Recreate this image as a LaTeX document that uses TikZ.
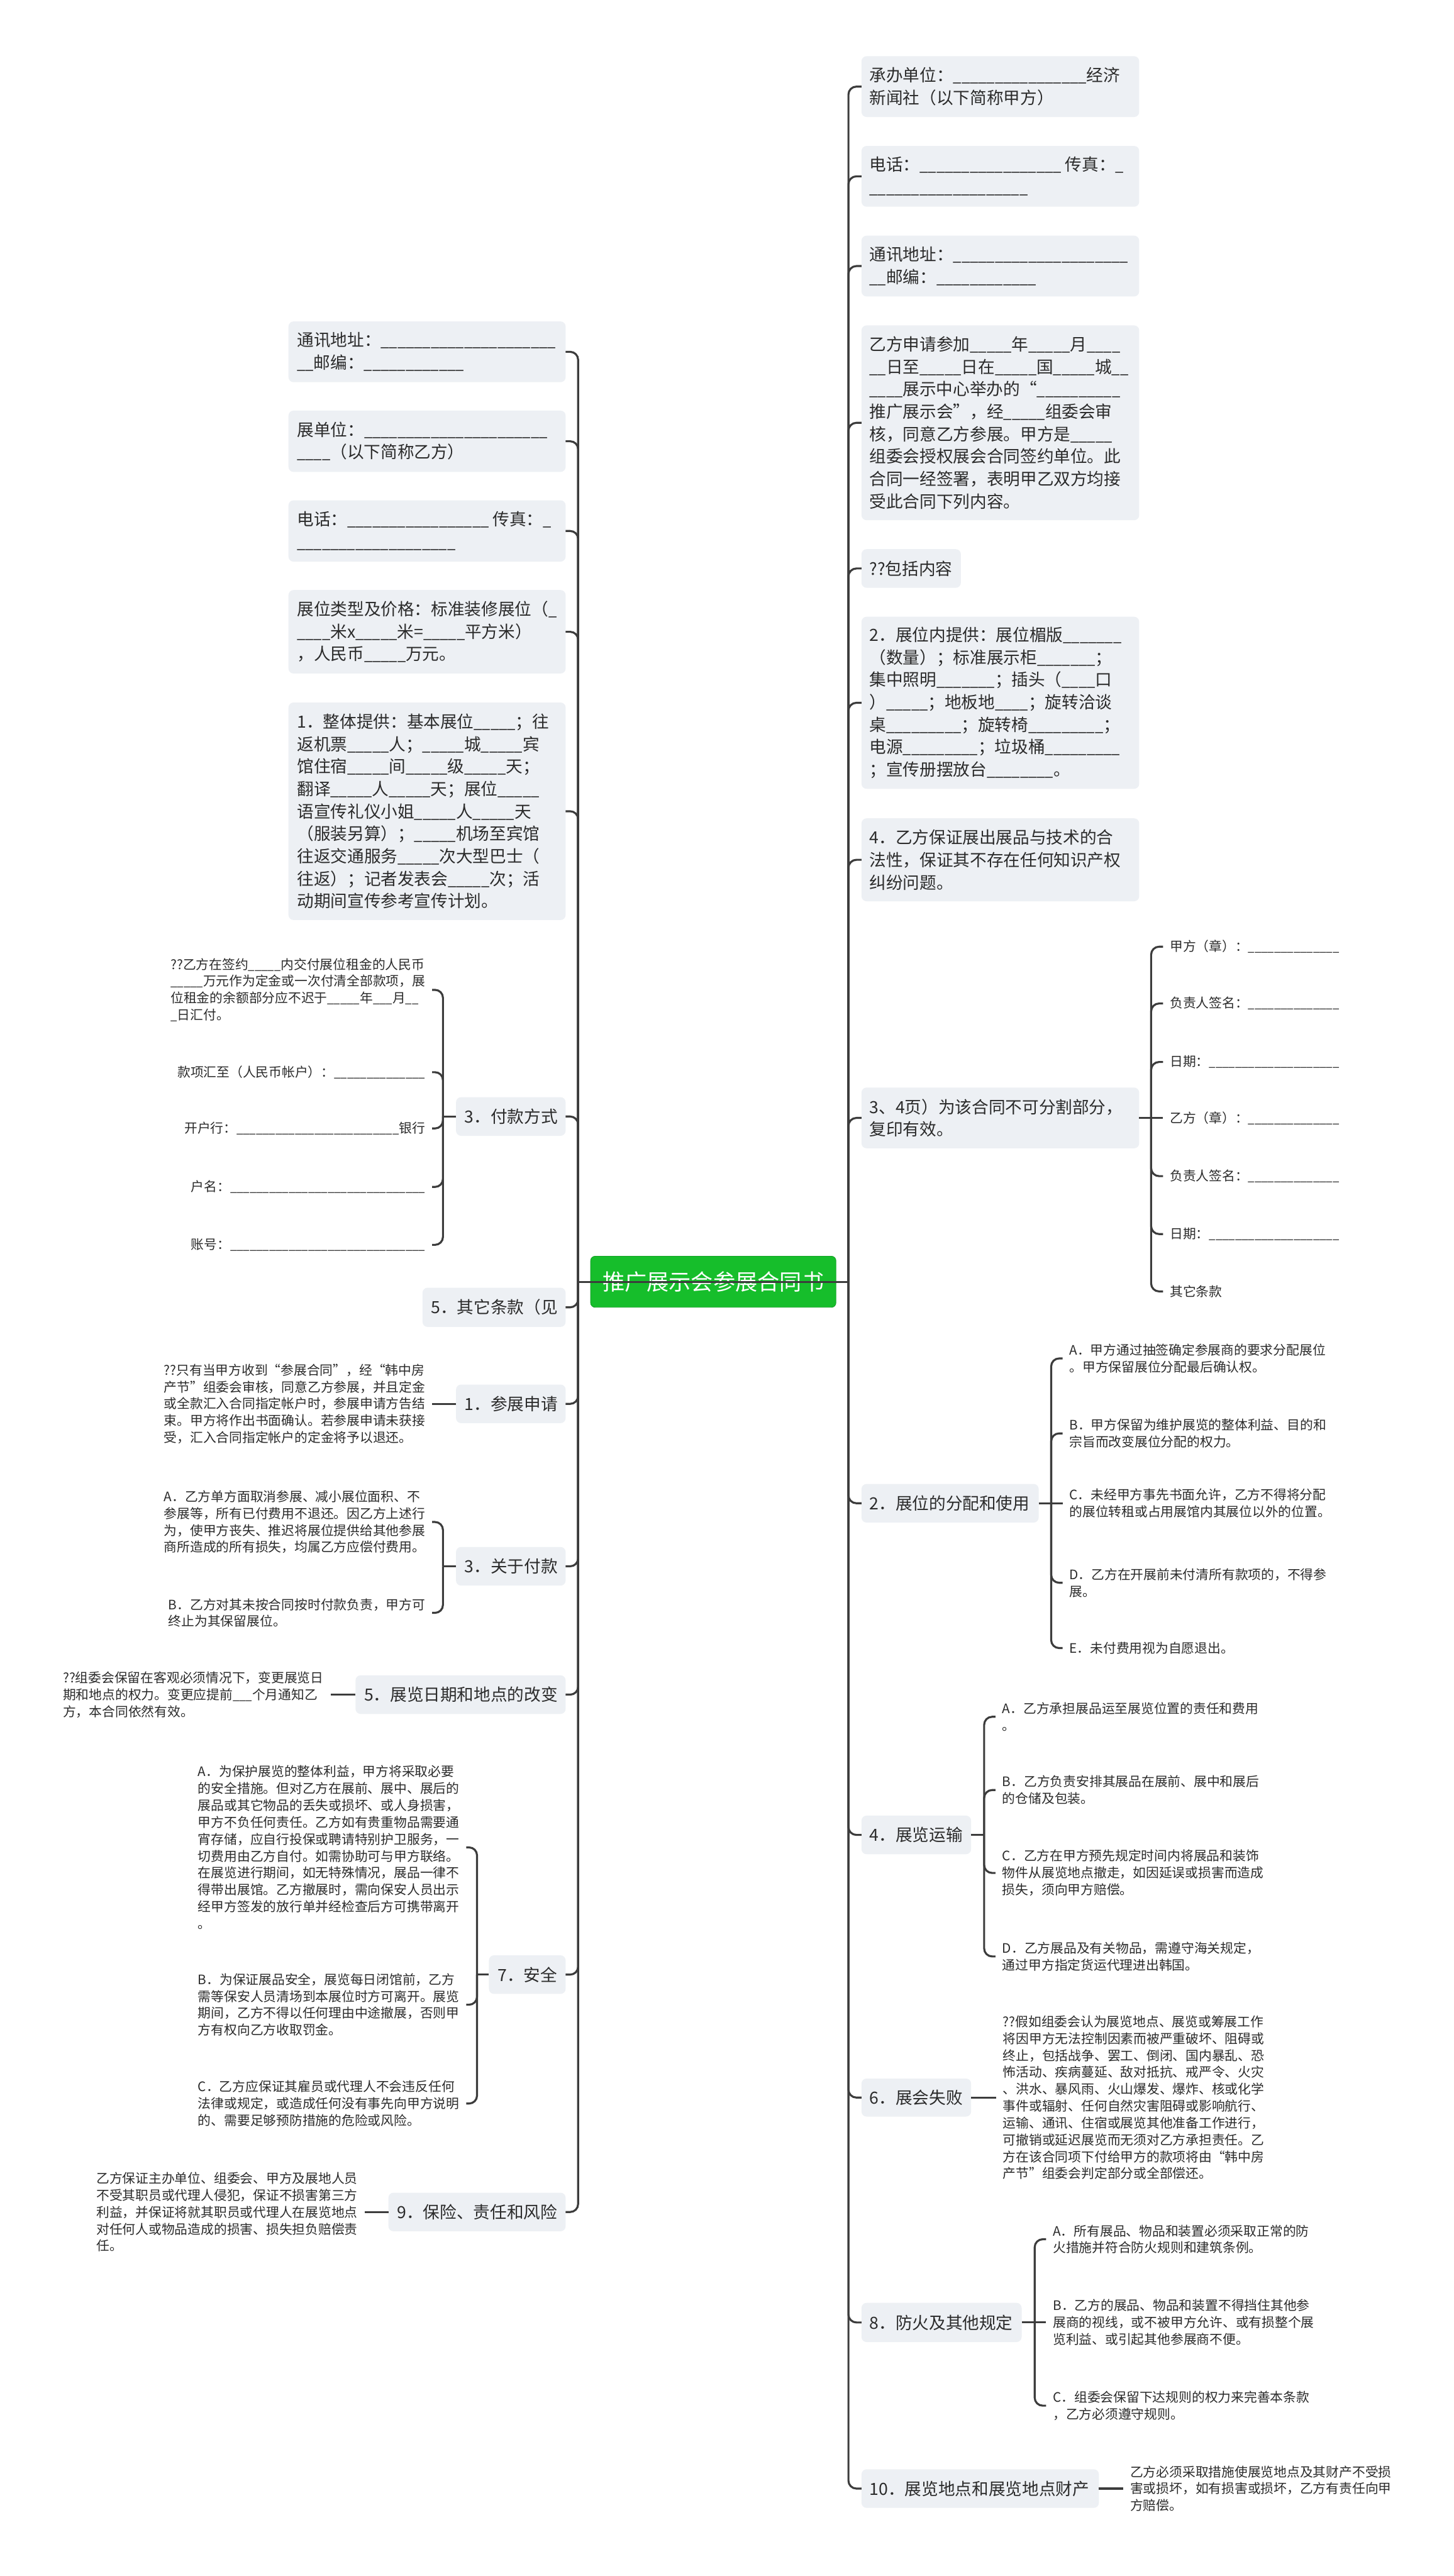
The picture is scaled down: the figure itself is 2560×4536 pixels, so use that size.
\documentclass[tikz,border=0pt]{standalone}
\usepackage{fontspec}
\setmainfont{Noto Sans CJK SC}
\newfontfamily\usfont[FakeStretch=0.89]{Noto Sans CJK SC}
\ExplSyntaxOn
\cs_new:Npn \myus #1 { { \usfont \prg_replicate:nn {#1} { \textunderscore } } }
\ExplSyntaxOff
\definecolor{boxc}{HTML}{EDF0F4}
\definecolor{txtc}{HTML}{2B2B2B}
\definecolor{connc}{HTML}{3C3C3C}
\definecolor{rootc}{HTML}{16BE2B}
\tikzset{
  box/.style={fill=boxc, rounded corners=9pt, inner sep=0pt, outer sep=0pt},
  btxt/.style={font=\fontsize{29.5}{39.5}\selectfont, text=txtc, align=left, inner sep=0pt, anchor=west},
  ctxt/.style={font=\fontsize{23}{29.7}\selectfont, text=txtc, align=left, inner xsep=12pt, inner ysep=2pt},
  lc/.style={ctxt, anchor=east},
  rc/.style={ctxt, anchor=west},
  conn/.style={draw=connc, line width=3.5pt, rounded corners=14pt},
}
\begin{document}
\begin{tikzpicture}[x=1pt, y=-1pt]
\fill[white] (0,0) rectangle (2560,4536);
\useasboundingbox (0,0) rectangle (2560,4536);

% root
\node[fill=rootc, draw=rootc!85!black, line width=1pt, rounded corners=8pt, minimum width=432pt, minimum height=90pt, inner sep=0pt, text=white, font=\fontsize{39}{46}\selectfont] (root) at (1256,2257) {推广展示会参展合同书};
\coordinate (L) at (1018,2257);
\coordinate (R) at (1494,2257);

% ---------------- left boxes
\node[box, minimum width=488pt, minimum height=107pt] (L1) at (752,619.5) {};
\node[btxt] at ([xshift=15pt]L1.west) {通讯地址：\myus{21}\\\myus{2}邮编：\myus{12}};
\node[box, minimum width=488pt, minimum height=108pt] (L2) at (752,777) {};
\node[btxt] at ([xshift=15pt]L2.west) {展单位：\myus{22}\\\myus{4}（以下简称乙方）};
\node[box, minimum width=488pt, minimum height=108pt] (L3) at (752,935) {};
\node[btxt] at ([xshift=15pt]L3.west) {电话：\myus{17} 传真：\myus{1}\\\myus{19}};
\node[box, minimum width=488pt, minimum height=147pt] (L4) at (752,1112.5) {};
\node[btxt] at ([xshift=15pt]L4.west) {展位类型及价格：标准装修展位（\myus{1}\\\myus{4}米x\myus{5}米=\myus{5}平方米）\\，人民币\myus{5}万元。};
\node[box, minimum width=488pt, minimum height=383pt] (L5) at (752,1428.5) {};
\node[btxt] at ([xshift=15pt]L5.west) {1．整体提供：基本展位\myus{5}；往\\返机票\myus{5}人；\myus{5}城\myus{5}宾\\馆住宿\myus{5}间\myus{5}级\myus{5}天；\\翻译\myus{5}人\myus{5}天；展位\myus{5}\\语宣传礼仪小姐\myus{5}人\myus{5}天\\（服装另算）；\myus{5}机场至宾馆\\往返交通服务\myus{5}次大型巴士（\\往返）；记者发表会\myus{5}次；活\\动期间宣传参考宣传计划。};
\node[box, minimum width=193pt, minimum height=68pt] (L6) at (899.5,1966) {};
\node[btxt] at ([xshift=15pt]L6.west) {3．付款方式};
\node[box, minimum width=252pt, minimum height=69pt] (L7) at (870,2302) {};
\node[btxt] at ([xshift=15pt]L7.west) {5．其它条款（见};
\node[box, minimum width=193pt, minimum height=68pt] (L8) at (899.5,2472) {};
\node[btxt] at ([xshift=15pt]L8.west) {1．参展申请};
\node[box, minimum width=193pt, minimum height=68pt] (L9) at (899.5,2758) {};
\node[btxt] at ([xshift=15pt]L9.west) {3．关于付款};
\node[box, minimum width=370pt, minimum height=68pt] (L10) at (811,2984) {};
\node[btxt] at ([xshift=15pt]L10.west) {5．展览日期和地点的改变};
\node[box, minimum width=135pt, minimum height=68pt] (L11) at (928.5,3477) {};
\node[btxt] at ([xshift=15pt]L11.west) {7．安全};
\node[box, minimum width=312pt, minimum height=68pt] (L12) at (840,3895) {};
\node[btxt] at ([xshift=15pt]L12.west) {9．保险、责任和风险};

\foreach \n in {L1,L2,L3,L4,L5,L6,L7,L8,L9,L10,L11,L12} {\draw[conn] (L) |- (\n.east);}

% left children
\coordinate (L6s) at (780,1966);
\node[lc] (L6a) at (761,1743) {??乙方在签约\myus{5}内交付展位租金的人民币\\\myus{5}万元作为定金或一次付清全部款项，展\\位租金的余额部分应不迟于\myus{5}年\myus{3}月\myus{2}\\\myus{1}日汇付。};
\node[lc] (L6b) at (761,1888) {款项汇至（人民币帐户）：\myus{14}};
\node[lc] (L6c) at (761,1987) {开户行：\myus{25}银行};
\node[lc] (L6d) at (761,2090) {户名：\myus{30}};
\node[lc] (L6e) at (761,2192) {账号：\myus{30}};
\draw[conn] (L6.west) -- (L6s);
\foreach \n in {L6a,L6b,L6c,L6d,L6e} {\draw[conn] (L6s) |- (\n.east);}

\node[lc] (L8a) at (761,2472) {??只有当甲方收到“参展合同”，经“韩中房\\产节”组委会审核，同意乙方参展，并且定金\\或全款汇入合同指定帐户时，参展申请方告结\\束。甲方将作出书面确认。若参展申请未获接\\受，汇入合同指定帐户的定金将予以退还。};
\draw[conn] (L8.west) -- (L8a.east);

\coordinate (L9s) at (780,2758);
\node[lc] (L9a) at (761,2680) {A．乙方单方面取消参展、减小展位面积、不\\参展等，所有已付费用不退还。因乙方上述行\\为，使甲方丧失、推迟将展位提供给其他参展\\商所造成的所有损失，均属乙方应偿付费用。};
\node[lc] (L9b) at (761,2840) {B．乙方对其未按合同按时付款负责，甲方可\\终止为其保留展位。};
\draw[conn] (L9.west) -- (L9s);
\foreach \n in {L9a,L9b} {\draw[conn] (L9s) |- (\n.east);}

\node[lc] (L10a) at (582,2984) {??组委会保留在客观必须情况下，变更展览日\\期和地点的权力。变更应提前\myus{3}个月通知乙\\方，本合同依然有效。};
\draw[conn] (L10.west) -- (L10a.east);

\coordinate (L11s) at (840,3477);
\node[lc] (L11a) at (821,3253) {A．为保护展览的整体利益，甲方将采取必要\\的安全措施。但对乙方在展前、展中、展后的\\展品或其它物品的丢失或损坏、或人身损害，\\甲方不负任何责任。乙方如有贵重物品需要通\\宵存储，应自行投保或聘请特别护卫服务，一\\切费用由乙方自付。如需协助可与甲方联络。\\在展览进行期间，如无特殊情况，展品一律不\\得带出展馆。乙方撤展时，需向保安人员出示\\经甲方签发的放行单并经检查后方可携带离开\\。};
\node[lc] (L11b) at (821,3530) {B．为保证展品安全，展览每日闭馆前，乙方\\需等保安人员清场到本展位时方可离开。展览\\期间，乙方不得以任何理由中途撤展，否则甲\\方有权向乙方收取罚金。};
\node[lc] (L11c) at (821,3704) {C．乙方应保证其雇员或代理人不会违反任何\\法律或规定，或造成任何没有事先向甲方说明\\的、需要足够预防措施的危险或风险。};
\draw[conn] (L11.west) -- (L11s);
\foreach \n in {L11a,L11b,L11c} {\draw[conn] (L11s) |- (\n.east);}

\node[lc] (L12a) at (642,3895) {乙方保证主办单位、组委会、甲方及展地人员\\不受其职员或代理人侵犯，保证不损害第三方\\利益，并保证将就其职员或代理人在展览地点\\对任何人或物品造成的损害、损失担负赔偿责\\任。};
\draw[conn] (L12.west) -- (L12a.east);

% ---------------- right boxes
\node[box, minimum width=489pt, minimum height=107pt] (R1) at (1761.5,152.5) {};
\node[btxt] at ([xshift=14pt]R1.west) {承办单位：\myus{16}经济\\新闻社（以下简称甲方）};
\node[box, minimum width=489pt, minimum height=107pt] (R2) at (1761.5,310.5) {};
\node[btxt] at ([xshift=14pt]R2.west) {电话：\myus{17} 传真：\myus{1}\\\myus{19}};
\node[box, minimum width=489pt, minimum height=107pt] (R3) at (1761.5,468.5) {};
\node[btxt] at ([xshift=14pt]R3.west) {通讯地址：\myus{21}\\\myus{2}邮编：\myus{12}};
\node[box, minimum width=489pt, minimum height=343pt] (R4) at (1761.5,744.5) {};
\node[btxt] at ([xshift=14pt]R4.west) {乙方申请参加\myus{5}年\myus{5}月\myus{4}\\\myus{2}日至\myus{5}日在\myus{5}国\myus{5}城\myus{2}\\\myus{4}展示中心举办的“\myus{10}\\推广展示会”，经\myus{5}组委会审\\核，同意乙方参展。甲方是\myus{5}\\组委会授权展会合同签约单位。此\\合同一经签署，表明甲乙双方均接\\受此合同下列内容。};
\node[box, minimum width=175pt, minimum height=68pt] (R5) at (1604.5,1001) {};
\node[btxt] at ([xshift=14pt]R5.west) {??包括内容};
\node[box, minimum width=489pt, minimum height=303pt] (R6) at (1761.5,1237.5) {};
\node[btxt] at ([xshift=14pt]R6.west) {2．展位内提供：展位楣版\myus{7}\\（数量）；标准展示柜\myus{7}；\\集中照明\myus{7}；插头（\myus{4}口\\）\myus{5}；地板地\myus{4}；旋转洽谈\\桌\myus{9}；旋转椅\myus{9}；\\电源\myus{9}；垃圾桶\myus{9}\\；宣传册摆放台\myus{8}。};
\node[box, minimum width=489pt, minimum height=146pt] (R7) at (1761.5,1514) {};
\node[btxt] at ([xshift=14pt]R7.west) {4．乙方保证展出展品与技术的合\\法性，保证其不存在任何知识产权\\纠纷问题。};
\node[box, minimum width=489pt, minimum height=107pt] (R8) at (1761.5,1968.5) {};
\node[btxt] at ([xshift=14pt]R8.west) {3、4页）为该合同不可分割部分，\\复印有效。};
\node[box, minimum width=312pt, minimum height=68pt] (R9) at (1673,2647) {};
\node[btxt] at ([xshift=14pt]R9.west) {2．展位的分配和使用};
\node[box, minimum width=193pt, minimum height=68pt] (R10) at (1613.5,3231) {};
\node[btxt] at ([xshift=14pt]R10.west) {4．展览运输};
\node[box, minimum width=193pt, minimum height=67pt] (R11) at (1613.5,3693.5) {};
\node[btxt] at ([xshift=14pt]R11.west) {6．展会失败};
\node[box, minimum width=282pt, minimum height=69pt] (R12) at (1658,4089.5) {};
\node[btxt] at ([xshift=14pt]R12.west) {8．防火及其他规定};
\node[box, minimum width=418pt, minimum height=68pt] (R13) at (1726,4382) {};
\node[btxt] at ([xshift=14pt]R13.west) {10．展览地点和展览地点财产};

\foreach \n in {R1,R2,R3,R4,R5,R6,R7,R8,R9,R10,R11,R12,R13} {\draw[conn] (R) |- (\n.west);}

% right children
\coordinate (R8s) at (2027,1968.5);
\node[rc] (R8a) at (2048,1667) {甲方（章）：\myus{14}};
\node[rc] (R8b) at (2048,1767) {负责人签名：\myus{14}};
\node[rc] (R8c) at (2048,1870) {日期：\myus{20}};
\node[rc] (R8d) at (2048,1968.5) {乙方（章）：\myus{14}};
\node[rc] (R8e) at (2048,2071) {负责人签名：\myus{14}};
\node[rc] (R8f) at (2048,2173) {日期：\myus{20}};
\node[rc] (R8g) at (2048,2274) {其它条款};
\draw[conn] (R8.east) -- (R8d.west);
\foreach \n in {R8a,R8b,R8c,R8e,R8f,R8g} {\draw[conn] (R8s) |- (\n.west);}

\coordinate (R9s) at (1851,2647);
\node[rc] (R9a) at (1871,2392) {A．甲方通过抽签确定参展商的要求分配展位\\。甲方保留展位分配最后确认权。};
\node[rc] (R9b) at (1871,2524) {B．甲方保留为维护展览的整体利益、目的和\\宗旨而改变展位分配的权力。};
\node[rc] (R9c) at (1871,2647) {C．未经甲方事先书面允许，乙方不得将分配\\的展位转租或占用展馆内其展位以外的位置。};
\node[rc] (R9d) at (1871,2787) {D．乙方在开展前未付清所有款项的，不得参\\展。};
\node[rc] (R9e) at (1871,2902) {E．未付费用视为自愿退出。};
\draw[conn] (R9.east) -- (R9c.west);
\foreach \n in {R9a,R9b,R9d,R9e} {\draw[conn] (R9s) |- (\n.west);}

\coordinate (R10s) at (1733,3231);
\node[rc] (R10a) at (1753,3023) {A．乙方承担展品运至展览位置的责任和费用\\。};
\node[rc] (R10b) at (1753,3152) {B．乙方负责安排其展品在展前、展中和展后\\的仓储及包装。};
\node[rc] (R10c) at (1753,3298) {C．乙方在甲方预先规定时间内将展品和装饰\\物件从展览地点撤走，如因延误或损害而造成\\损失，须向甲方赔偿。};
\node[rc] (R10d) at (1753,3445) {D．乙方展品及有关物品，需遵守海关规定，\\通过甲方指定货运代理进出韩国。};
\draw[conn] (R10.east) -- (R10s);
\foreach \n in {R10a,R10b,R10c,R10d} {\draw[conn] (R10s) |- (\n.west);}

\node[rc] (R11a) at (1754,3693.5) {??假如组委会认为展览地点、展览或筹展工作\\将因甲方无法控制因素而被严重破坏、阻碍或\\终止，包括战争、罢工、倒闭、国内暴乱、恐\\怖活动、疾病蔓延、敌对抵抗、戒严令、火灾\\、洪水、暴风雨、火山爆发、爆炸、核或化学\\事件或辐射、任何自然灾害阻碍或影响航行、\\运输、通讯、住宿或展览其他准备工作进行，\\可撤销或延迟展览而无须对乙方承担责任。乙\\方在该合同项下付给甲方的款项将由“韩中房\\产节”组委会判定部分或全部偿还。};
\draw[conn] (R11.east) -- (R11a.west);

\coordinate (R12s) at (1822,4089.5);
\node[rc] (R12a) at (1842,3943) {A．所有展品、物品和装置必须采取正常的防\\火措施并符合防火规则和建筑条例。};
\node[rc] (R12b) at (1842,4089.5) {B．乙方的展品、物品和装置不得挡住其他参\\展商的视线，或不被甲方允许、或有损整个展\\览利益、或引起其他参展商不便。};
\node[rc] (R12c) at (1842,4236) {C．组委会保留下达规则的权力来完善本条款\\，乙方必须遵守规则。};
\draw[conn] (R12.east) -- (R12b.west);
\foreach \n in {R12a,R12c} {\draw[conn] (R12s) |- (\n.west);}

\node[rc] (R13a) at (1978,4382) {乙方必须采取措施使展览地点及其财产不受损\\害或损坏，如有损害或损坏，乙方有责任向甲\\方赔偿。};
\draw[conn] (R13.east) -- (R13a.west);

% central line drawn across the root, as in the reference
\draw[conn] (L) -- (R);
\end{tikzpicture}
\end{document}
